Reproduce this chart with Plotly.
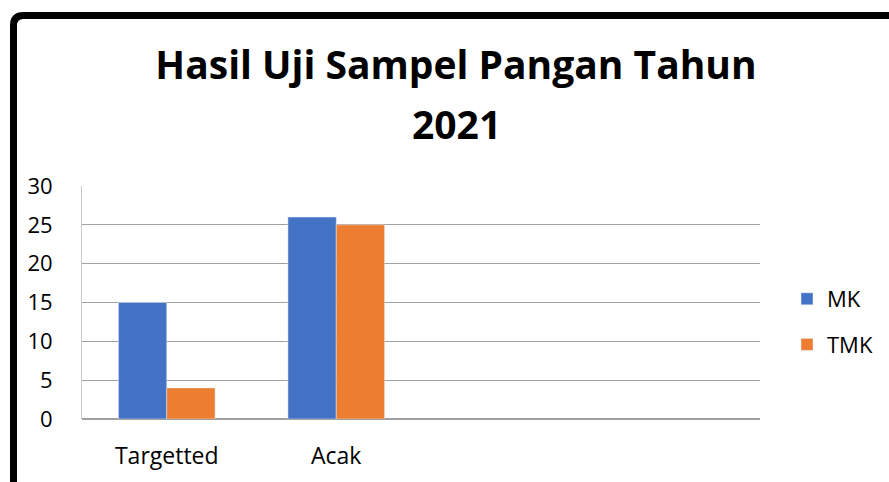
import plotly.graph_objects as go

# Chart data
categories = ["Targetted", "Acak"]
mk_values = [15, 26]
tmk_values = [4, 25]
series_names = ["MK", "TMK"]
y_ticks = [0, 5, 10, 15, 20, 25, 30]
title_lines = ["Hasil Uji Sampel Pangan Tahun", "2021"]

# Office-style palette
blue = "#4472C4"
orange = "#ED7D31"
font_family = "Open Sans"

W, H = 889, 482
plot_left, plot_right, plot_top, plot_bottom = 82, 760, 186, 419


def px_to_paper(x_px, y_px):
    """Convert window pixel coordinates to paper coordinates."""
    x = (x_px - plot_left) / (plot_right - plot_left)
    y = (plot_bottom - y_px) / (plot_bottom - plot_top)
    return x, y


fig = go.Figure()
fig.add_trace(go.Bar(x=categories, y=mk_values, name=series_names[0],
                     marker_color=blue, legendgroup="a"))
fig.add_trace(go.Bar(x=categories, y=tmk_values, name=series_names[1],
                     marker_color=orange, legendgroup="b"))

# Thick black frame along the top and left edge, rounded at the corner
x0, y0 = px_to_paper(13.5, 490)
xc, yc = px_to_paper(13.5, 15.5)
xr, _ = px_to_paper(900, 15.5)
xk, _ = px_to_paper(23.5, 15.5)
_, yk = px_to_paper(13.5, 25.5)
fig.add_shape(
    type="path",
    xref="paper", yref="paper",
    path=f"M {x0} {y0} L {xc} {yk} Q {xc} {yc} {xk} {yc} L {xr} {yc}",
    line=dict(color="black", width=7),
)

# Second title line is placed separately to get the wider line spacing
ax2, ay2 = px_to_paper(456, 124)
fig.add_annotation(
    text=f"<b>{title_lines[1]}</b>",
    xref="paper", yref="paper",
    x=ax2, y=ay2,
    xanchor="center", yanchor="middle",
    showarrow=False,
    font=dict(family=font_family, size=39, color="black"),
)

fig.update_layout(
    width=W,
    height=H,
    margin=dict(l=plot_left, r=W - plot_right, t=plot_top, b=H - plot_bottom, pad=0),
    paper_bgcolor="white",
    plot_bgcolor="white",
    barmode="group",
    bargap=0.43,
    bargroupgap=0,
    font=dict(family=font_family, size=22, color="black"),
    title=dict(
        text=f"<b>{title_lines[0]}</b>",
        x=456 / W,
        xanchor="center",
        y=1 - 65 / H,
        yanchor="middle",
        font=dict(family=font_family, size=39, color="black"),
    ),
    legend=dict(
        xref="container",
        yref="container",
        x=787 / W,
        y=1 - 322 / H,
        xanchor="left",
        yanchor="middle",
        traceorder="grouped",
        tracegroupgap=14,
        font=dict(size=22),
    ),
    showlegend=True,
)

fig.update_xaxes(
    range=[-0.5, 3.5],
    showgrid=False,
    showline=False,
    ticks="",
    ticklabelstandoff=21,
    tickfont=dict(size=23),
)
fig.update_yaxes(
    range=[0, 30],
    tickvals=y_ticks,
    showgrid=True,
    gridcolor="#a0a0a0",
    gridwidth=1,
    zeroline=True,
    zerolinecolor="#a0a0a0",
    showline=True,
    linecolor="#c8c8c8",
    ticks="",
    ticklabelstandoff=24,
)

# Drop the default page margin so the figure sits at the window corner
fig.write_html(
    "out.html",
    config={"displayModeBar": False},
    post_script="document.body.style.margin='0';",
)
